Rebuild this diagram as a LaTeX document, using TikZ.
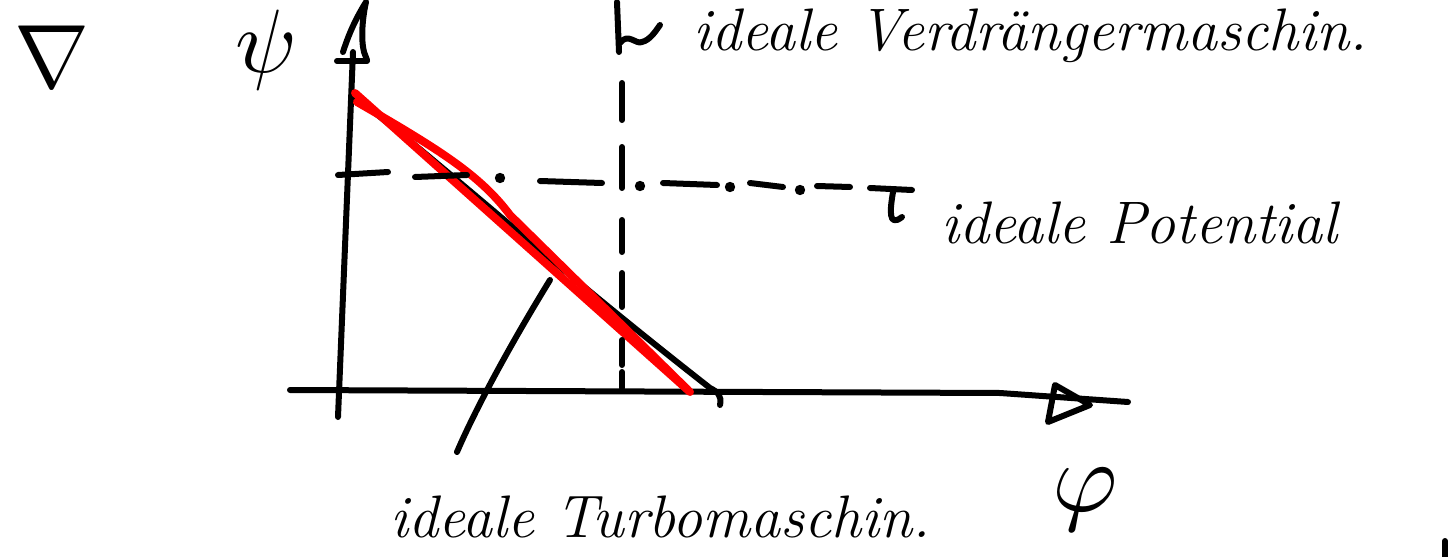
\documentclass[tikz,border=0pt]{standalone}
\usepackage{fontspec}
\usepackage{amsmath}

\begin{document}
\begin{tikzpicture}[x=0.5pt, y=-0.5pt, line width=3pt, line cap=round, line join=round,
  redpen/.style={line width=4pt, red},
  hand/.style={font=\fontsize{30}{36}\selectfont\itshape, inner sep=0pt, anchor=base west},
  symb/.style={inner sep=0pt, font=\normalsize, scale=#1}]
  \useasboundingbox (0,0) rectangle (1453,557);

  % axes
  \coordinate (ybot) at (338,417);
  \coordinate (ytop) at (353,52);
  \coordinate (xleft) at (290,390);
  \coordinate (xright) at (1128,402);
  \draw (ybot) -- (ytop);
  \draw (xleft) -- (1000,393) -- (xright);
  \draw (343,52) .. controls (350,30) and (358,15) .. (366,2)
    .. controls (362,20) and (361,40) .. (364,52) -- (367,60);
  \draw (337,61) -- (367,61);
  \draw (1055,385) -- (1090,405) -- (1048,422) -- cycle;

  % ideal turbo machine line
  \draw (352,95) .. controls (450,170) and (540,255) .. (710,388)
    .. controls (718,392) and (722,396) .. (720,405);
  \draw[redpen] (355,93) -- (690,392);
  \draw[redpen] (357,102) .. controls (440,150) and (480,175) .. (510,215) -- (688,390);

  % ideal potential, dash-dot
  \foreach \xa/\ya/\xb/\yb in {338/175/388/172, 415/177/467/175, 540/181/602/183,
      663/183/717/185, 750/183/783/187, 817/186/850/187}
    \draw (\xa,\ya) -- (\xb,\yb);
  \foreach \xd/\yd in {500/178, 640/186, 730/187, 800/190}
    \fill (\xd,\yd) circle (2.6pt);
  \draw (870,188) -- (912,190);
  \draw (893,192) .. controls (890,210) and (888,228) .. (902,217);

  % ideal displacement machine, dashed
  \foreach \ya/\yb in {388/372, 365/340, 307/273, 252/220, 188/147, 120/83}
    \draw (622,\ya) -- (622,\yb);
  \draw (619,52) -- (617,2);
  \draw (620,43) .. controls (628,32) and (636,45) .. (642,42)
    .. controls (650,40) and (655,32) .. (660,25);

  % labels
  \node[symb=4.5] (nabla) at (52,57) {$\nabla$};
  \node[symb=4.5] (psi) at (266,50) {$\psi$};
  \node[symb=5] (phi) at (1085,500) {$\varphi$};
  \node[hand] (verdr) at (690,50) {ideale Verdrängermaschin.};
  \node[hand] (potential) at (938,243) {ideale Potential};
  \node[hand] (turbo) at (387,537) {ideale Turbomaschin.};

  % pointer to the turbo line
  \coordinate (tip) at (550,280);
  \coordinate (tail) at (457,452);
  \draw (tip) .. controls (510,345) and (475,410) .. (tail);

  \draw (1445,541) -- (1445,560);
\end{tikzpicture}
\end{document}
